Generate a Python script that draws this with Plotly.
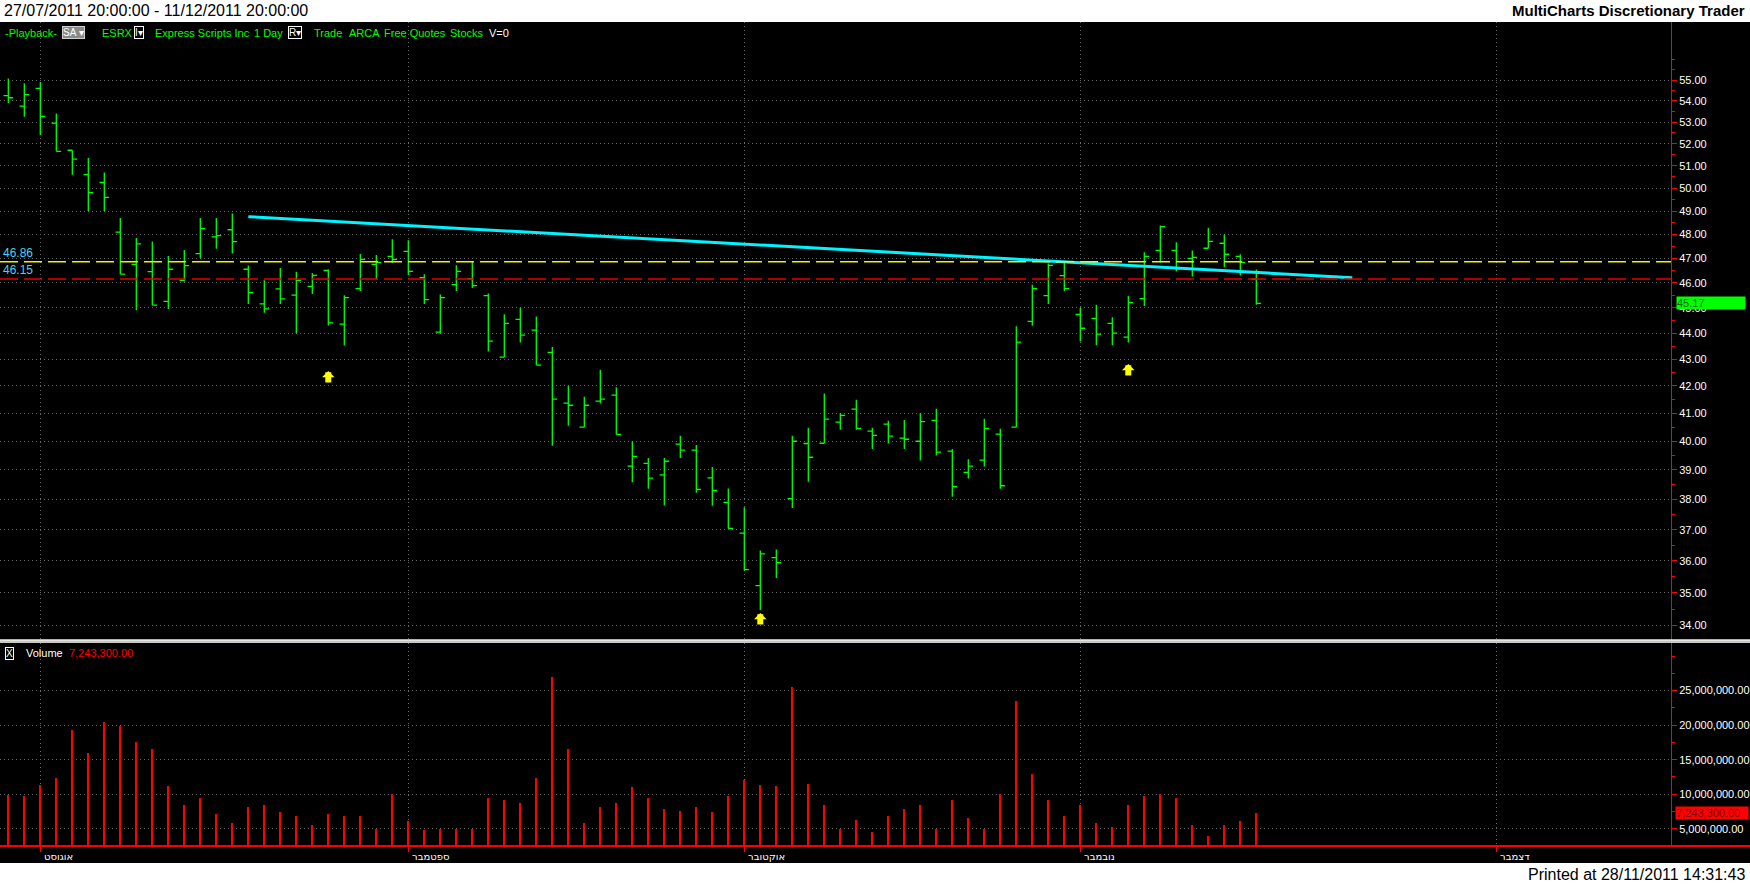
# -*- coding: utf-8 -*-
"""MultiCharts style daily bar chart of ESRX with a volume pane underneath."""

import numpy as np
import pandas as pd
import plotly.graph_objects as go

FIG_W, FIG_H = 1750, 884

# ---- data -----------------------------------------------------------------
# trading days on the chart (28 Jul - 16 Nov 2011, market closed on Labor Day)
dates = [d for d in pd.bdate_range("2011-07-28", "2011-11-16") if d != pd.Timestamp("2011-09-05")]

opens = [
    54.25, 53.75, 54.60, 52.95, 51.70, 50.60, 50.25, 48.10, 46.75, 46.45,
    45.25, 46.10, 47.20, 47.90, 48.20, 46.55, 45.15, 45.75, 45.50, 45.85,
    46.50, 44.35, 45.76, 46.75, 47.08, 47.29, 46.21, 44.04, 45.92, 46.17,
    45.48, 43.08, 44.54, 44.12, 43.26, 41.37, 40.50, 41.44, 41.66, 39.13,
    39.23, 38.83, 39.90, 39.69, 38.73, 37.90, 36.89, 35.22, 36.10, 38.03,
    39.92, 39.93, 40.68, 41.15, 40.36, 40.61, 40.11, 40.00, 40.74, 39.65,
    38.92, 39.34, 40.25, 40.50, 44.46, 45.48, 46.29, 44.73, 44.58, 44.38,
    43.85, 45.36, 47.33, 47.33, 47.00, 47.42, 47.63, 47.08, 46.15,
]
highs = [
    55.08, 54.85, 54.90, 53.40, 51.70, 51.35, 50.70, 48.70, 47.85, 47.70,
    47.10, 47.35, 48.70, 48.70, 48.90, 46.70, 46.10, 46.60, 46.45, 46.40,
    46.55, 45.50, 47.18, 47.14, 47.80, 47.76, 46.35, 45.53, 46.72, 46.86,
    45.57, 44.74, 45.00, 44.65, 43.47, 42.00, 41.60, 42.60, 41.95, 40.00,
    39.41, 39.41, 40.19, 39.87, 39.10, 38.37, 37.74, 36.33, 36.36, 40.19,
    40.48, 41.72, 41.01, 41.49, 40.48, 40.73, 40.76, 41.01, 41.16, 39.73,
    39.37, 40.80, 40.44, 44.27, 45.92, 46.79, 46.87, 45.00, 45.12, 44.62,
    45.48, 47.25, 48.38, 47.67, 47.33, 48.29, 48.00, 47.17, 46.54,
]
lows = [
    53.90, 53.25, 52.40, 51.65, 50.60, 49.00, 49.00, 46.35, 44.90, 45.10,
    44.95, 46.05, 47.00, 47.40, 47.20, 45.15, 44.80, 45.15, 44.00, 45.55,
    44.30, 43.52, 45.67, 46.14, 46.82, 46.32, 45.15, 44.00, 45.67, 45.79,
    43.29, 43.08, 43.64, 42.78, 39.84, 40.55, 40.50, 41.35, 40.24, 38.58,
    38.36, 37.80, 39.41, 38.22, 37.79, 37.04, 35.68, 34.47, 35.46, 37.71,
    38.60, 39.93, 40.41, 40.41, 39.73, 39.92, 39.73, 39.33, 39.50, 38.09,
    38.71, 39.12, 38.36, 40.50, 44.29, 45.15, 45.67, 43.68, 43.53, 43.53,
    43.64, 45.07, 46.83, 46.46, 46.25, 47.42, 46.63, 46.29, 45.12,
]
closes = [
    54.15, 54.30, 53.27, 51.65, 51.30, 49.80, 49.60, 46.35, 47.60, 45.10,
    46.55, 46.70, 48.25, 47.95, 47.70, 45.60, 44.95, 45.35, 46.10, 46.30,
    44.40, 45.40, 46.96, 46.83, 46.96, 46.46, 45.32, 45.40, 46.46, 45.88,
    43.69, 44.38, 43.92, 42.78, 41.51, 41.29, 41.29, 41.51, 40.24, 39.47,
    38.72, 39.30, 39.69, 38.34, 38.30, 37.04, 35.72, 36.22, 35.94, 40.00,
    39.44, 40.79, 40.92, 40.46, 40.21, 40.18, 40.07, 40.70, 39.62, 38.43,
    39.13, 40.46, 38.46, 43.65, 45.76, 46.71, 45.76, 44.19, 43.96, 44.00,
    45.20, 47.08, 48.33, 46.58, 47.04, 47.71, 47.17, 46.83, 45.17,
]
volumes_mln = [
    9.9, 9.8, 11.4, 12.4, 19.3, 16.0, 20.5, 19.9, 17.6, 16.6,
    11.25, 8.5, 9.5, 7.2, 5.9, 8.2, 8.4, 7.4, 6.8, 5.6,
    7.2, 6.8, 6.9, 4.9, 10.1, 6.15, 4.75, 4.9, 5.0, 4.9,
    9.5, 9.2, 8.8, 12.3, 27.0, 16.6, 5.8, 8.1, 8.8, 11.1,
    9.5, 7.9, 7.6, 8.2, 7.4, 9.7, 12.1, 11.4, 11.25, 25.5,
    11.5, 8.5, 5.0, 6.2, 4.5, 6.8, 7.9, 8.4, 4.9, 9.1,
    6.6, 5.0, 10.1, 23.5, 13.0, 9.2, 6.9, 8.5, 5.8, 5.2,
    8.4, 9.8, 10.0, 9.4, 5.5, 3.9, 5.6, 6.1, 7.2433,
]

# month separators (bar slot of the first session of each month)
month_names = ["אוגוסט", "ספטמבר", "אוקטובר", "נובמבר", "דצמבר"]
month_slots = [2, 25, 46, 67, 93]

price_ticks = list(range(34, 56))
price_minor = [v + 0.5 for v in range(33, 56)] + [56]
volume_ticks = [5e6, 10e6, 15e6, 20e6, 25e6]
volume_minor = [7.5e6, 12.5e6, 17.5e6, 22.5e6, 27.5e6, 30e6]

# drawings on the price pane
ref_levels = [46.86, 46.15]
ref_colors = ["#f2f200", "#e80000"]
trend_slots = [15, 84]
trend_prices = [48.76, 46.20]
arrow_slots = [20, 47, 70]
arrow_prices = [42.56, 34.38, 42.82]

price_range = [33.57, 57.89]
volume_range = [2.5e6, 31.9e6]
last_volume = 7243300

# ---- pixel layout (window 1750 x 884) -------------------------------------
PLOT_RIGHT = 1671
PRICE_TOP, PRICE_BOTTOM = 22, 640
VOL_TOP, VOL_BOTTOM = 643, 846
BLACK_BOTTOM = 863
BAR_PX, FIRST_BAR_PX = 16.0, 8.3

GRID = "#6a6a6a"
GREEN = "#00ff00"
FONT = "Liberation Sans"


def px_x(x: float) -> float:
    """Pixel column -> paper x."""
    return x / FIG_W


def px_y(y: float) -> float:
    """Pixel row -> paper y."""
    return 1 - y / FIG_H


def money(v: float) -> str:
    return f"{v:,.2f}"


def text_note(x, y, text, color, size=11, **kw):
    d = dict(
        xref="paper", yref="paper", x=px_x(x), y=px_y(y), text=text, showarrow=False,
        xanchor="left", yanchor="middle", font=dict(family=FONT, size=size, color=color),
    )
    d.update(kw)
    return d


slots = np.arange(len(dates))
volumes = [v * 1e6 for v in volumes_mln]
x_range = [-FIRST_BAR_PX / BAR_PX, (PLOT_RIGHT - FIRST_BAR_PX) / BAR_PX]

fig = go.Figure()

fig.add_trace(
    go.Ohlc(
        x=slots, open=opens, high=highs, low=lows, close=closes,
        increasing=dict(line=dict(color=GREEN, width=1.3)),
        decreasing=dict(line=dict(color=GREEN, width=1.3)),
        tickwidth=0.3, xaxis="x", yaxis="y", showlegend=False,
    )
)
fig.add_trace(
    go.Scatter(
        x=trend_slots, y=trend_prices, mode="lines",
        line=dict(color="#00f4ff", width=3), xaxis="x", yaxis="y", showlegend=False,
    )
)
fig.add_trace(
    go.Bar(
        x=slots, y=volumes, width=0.09, marker=dict(color="#ff0000", line=dict(width=0)),
        xaxis="x2", yaxis="y2", showlegend=False,
    )
)

axis_common = dict(
    showgrid=True, gridcolor=GRID, griddash="1px,3px", gridwidth=1,
    zeroline=False, fixedrange=True,
)
fig.update_layout(
    width=FIG_W, height=FIG_H,
    margin=dict(l=0, r=0, t=0, b=0),
    paper_bgcolor="white", plot_bgcolor="#000000",
    bargap=0, showlegend=False,
    xaxis=dict(
        domain=[0, px_x(PLOT_RIGHT)], range=x_range, anchor="y",
        tickmode="array", tickvals=month_slots, showticklabels=False, ticks="",
        rangeslider=dict(visible=False), **axis_common,
    ),
    xaxis2=dict(
        domain=[0, px_x(PLOT_RIGHT)], range=x_range, anchor="y2",
        tickmode="array", tickvals=month_slots, showticklabels=False,
        ticks="outside", ticklen=5, tickcolor="#ff0000", **axis_common,
    ),
    yaxis=dict(
        domain=[px_y(PRICE_BOTTOM), px_y(PRICE_TOP)], type="log",
        range=[np.log10(price_range[0]), np.log10(price_range[1])],
        side="right", anchor="x",
        tickmode="array", tickvals=price_ticks, ticktext=[f"{v:.2f}" for v in price_ticks],
        ticks="outside", ticklen=5, tickcolor="#ff0000",
        tickfont=dict(family=FONT, size=11, color="white"),
        showline=True, linecolor="#ff0000", linewidth=1,
        minor=dict(tickvals=price_minor, ticks="outside", ticklen=3, tickcolor="#ff0000", showgrid=False),
        **axis_common,
    ),
    yaxis2=dict(
        domain=[px_y(VOL_BOTTOM), px_y(VOL_TOP)], range=volume_range,
        side="right", anchor="x2",
        tickmode="array", tickvals=volume_ticks, ticktext=[money(v) for v in volume_ticks],
        ticks="outside", ticklen=5, tickcolor="#ff0000",
        tickfont=dict(family=FONT, size=11, color="white"),
        showline=True, linecolor="#ff0000", linewidth=1,
        minor=dict(tickvals=volume_minor, ticks="outside", ticklen=3, tickcolor="#ff0000", showgrid=False),
        **axis_common,
    ),
)

shapes = [
    # black chart window between the white title and footer strips
    dict(type="rect", xref="paper", yref="paper", x0=0, x1=1,
         y0=px_y(BLACK_BOTTOM), y1=px_y(PRICE_TOP), fillcolor="black", line_width=0, layer="below"),
    # pane separator
    dict(type="rect", xref="paper", yref="paper", x0=0, x1=1,
         y0=px_y(643), y1=px_y(639.5), fillcolor="#c9c9c1", line_width=0),
    dict(type="line", xref="paper", yref="paper", x0=0, x1=1,
         y0=px_y(640), y1=px_y(640), line=dict(color="white", width=1)),
    # time axis line
    dict(type="line", xref="paper", yref="paper", x0=0, x1=1,
         y0=px_y(VOL_BOTTOM), y1=px_y(VOL_BOTTOM), line=dict(color="#ff0000", width=2)),
]
for level, color in zip(ref_levels, ref_colors):
    shapes.append(
        dict(type="line", xref="x domain", yref="y", x0=0, x1=1, y0=level, y1=level,
             line=dict(color=color, width=1.5, dash="18px,6px"))
    )
fig.update_layout(shapes=shapes)

notes = [
    # title strip
    text_note(2, 11, "27/07/2011 20:00:00 - 11/12/2011 20:00:00", "black", size=16),
    text_note(1747, 11, "<b>MultiCharts Discretionary Trader</b>", "black", size=15, xanchor="right"),
    text_note(1747, 874, "Printed at 28/11/2011 14:31:43", "black", size=16, xanchor="right"),
    # status line
    text_note(3, 33, "-Playback-", GREEN),
    text_note(62, 33, "SA ▾", "white", size=10, bgcolor="#8a8a8a", bordercolor="#d0d0d0", borderwidth=1, borderpad=0),
    text_note(100, 33, "ESRX", GREEN),
    text_note(134, 33, "I▾", "white", size=10, bgcolor="black", bordercolor="white", borderwidth=1, borderpad=0),
    text_note(153, 33, "Express Scripts Inc", GREEN),
    text_note(252, 33, "1 Day", GREEN),
    text_note(288, 33, "R▾", "white", size=10, bgcolor="black", bordercolor="white", borderwidth=1, borderpad=0),
    text_note(312, 33, "Trade", GREEN),
    text_note(347, 33, "ARCA", GREEN),
    text_note(382, 33, "Free Quotes", GREEN),
    text_note(448, 33, "Stocks", GREEN),
    text_note(487, 33, "V=0", "white"),
    # volume pane status
    text_note(5, 653, "X", "white", size=10, bordercolor="white", borderwidth=1, borderpad=0),
    text_note(24, 653, "Volume", "white"),
    text_note(67, 653, money(last_volume), "#ff0000"),
    # last value markers on the scales
    dict(xref="paper", yref="y", x=px_x(PLOT_RIGHT + 5), y=np.log10(closes[-1]),
         text=f"{closes[-1]:.2f}", showarrow=False, xanchor="left", yanchor="middle",
         align="left", width=68, height=12, bgcolor=GREEN, borderpad=0,
         font=dict(family=FONT, size=11, color="#006a00")),
    dict(xref="paper", yref="y2", x=px_x(PLOT_RIGHT + 4), y=last_volume,
         text=money(last_volume), showarrow=False, xanchor="left", yanchor="middle",
         align="left", width=72, height=12, bgcolor="#ff0000", borderpad=0,
         font=dict(family=FONT, size=11, color="#7a0000")),
]
for level in ref_levels:
    notes.append(
        dict(xref="paper", yref="y", x=px_x(1), y=np.log10(level), text=f"{level:.2f}",
             showarrow=False, xanchor="left", yanchor="bottom", yshift=0,
             font=dict(family=FONT, size=12, color="#40d4ff"))
    )
for name, slot in zip(month_names, month_slots):
    notes.append(
        dict(xref="x2", yref="paper", x=slot, y=px_y(856), text=name,
             showarrow=False, xanchor="left", yanchor="middle", xshift=2,
             font=dict(family="DejaVu Sans", size=10, color="white"))
    )
for slot, price in zip(arrow_slots, arrow_prices):
    notes.append(
        dict(xref="x", yref="y", x=slot, y=np.log10(price), text="", showarrow=True,
             ax=0, ay=13, arrowhead=1, arrowsize=0.35, arrowwidth=6, arrowcolor="#ffff00")
    )
fig.update_layout(annotations=notes)

# the page has to start at the window's top-left corner, with no toolbar on top
fig.write_html(
    "out.html",
    config={"displayModeBar": False},
    post_script="document.body.style.margin = '0';",
)
